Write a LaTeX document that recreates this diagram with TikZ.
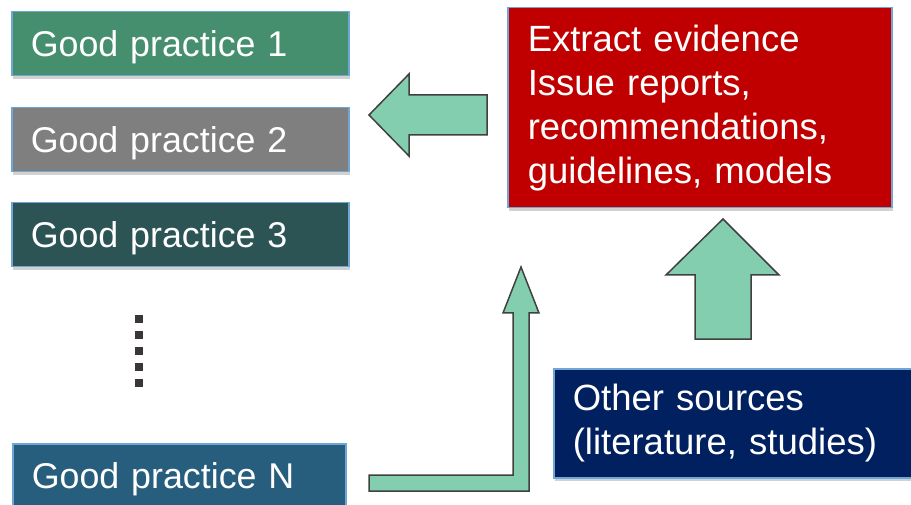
\documentclass[tikz,border=0pt]{standalone}
\usepackage{fontspec}
\setmainfont{Liberation Sans}
\usetikzlibrary{shadows}

\definecolor{gpone}{HTML}{458F6E}
\definecolor{gptwo}{HTML}{7F7F7F}
\definecolor{gpthree}{HTML}{2C5454}
\definecolor{gpn}{HTML}{275E7E}
\definecolor{evidred}{HTML}{C00000}
\definecolor{srcnavy}{HTML}{002060}
\definecolor{boxedge}{HTML}{6FA6D6}
\definecolor{arrowfill}{HTML}{84CEB0}
\definecolor{arrowedge}{HTML}{404040}
\definecolor{dotgray}{HTML}{3A3536}

\begin{document}
\begin{tikzpicture}[x=1pt, y=-1pt,
  box/.style={draw=boxedge, line width=1.5pt, text=white, anchor=north west,
    align=left, inner xsep=20pt, font=\fontsize{36.5}{44}\selectfont,
    drop shadow={shadow xshift=1.5pt, shadow yshift=-3pt, opacity=0.3, fill=black!60}},
  gpbox/.style={box, minimum width=337pt, minimum height=64pt, text width=299pt,
    inner xsep=19pt, font=\fontsize{35.8}{44}\selectfont,
    text height=26pt, text depth=0pt},
  blockarrow/.style={draw=arrowedge, fill=arrowfill, line width=1.5pt, line join=miter}]
\clip (0,0) rectangle (911,505);

% Good practice boxes
\foreach \i/\y/\col in {1/11/gpone, 2/107/gptwo, 3/202/gpthree}
  \node[gpbox, fill=\col] (gp\i) at (11,\y) {Good practice \i};
\node[gpbox, fill=gpn, minimum width=333pt, text width=295pt] (gpN) at (12,443) {Good practice N};

% Dots
\foreach \y in {319,335,351,367,383}
  \fill[dotgray] (135,\y-4) rectangle (143,\y+4);

% Evidence and sources
\node[box, fill=evidred, minimum width=384pt, minimum height=200pt, text width=344pt] (evid)
  at (507,7) {Extract evidence\\Issue reports,\\recommendations,\\guidelines, models};
\node[box, fill=srcnavy, minimum width=380pt, minimum height=109pt, text width=342pt,
  inner xsep=19pt] (src) at (553,368) {Other sources\\(literature, studies)};

% Block arrows
\draw[blockarrow] (487,95) -- (409,95) -- (409,74) -- (369,115) -- (409,156)
  -- (409,135) -- (487,135) -- cycle;
\draw[blockarrow] (695,339) -- (695,275) -- (666,275) -- (723,219) -- (779,275)
  -- (751,275) -- (751,339) -- cycle;
\draw[blockarrow] (369,475) -- (513,475) -- (513,313) -- (503,313) -- (521,267)
  -- (539,313) -- (529,313) -- (529,491) -- (369,491) -- cycle;
\end{tikzpicture}
\end{document}
